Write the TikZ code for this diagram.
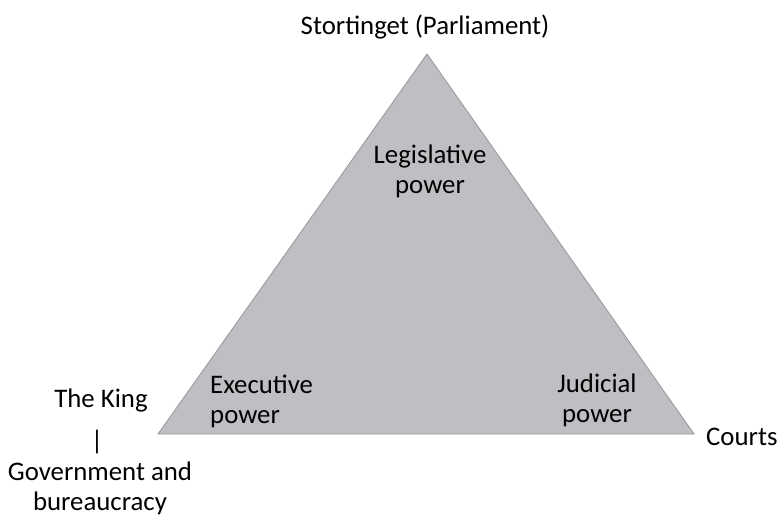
\documentclass[tikz,border=0pt]{standalone}
\usepackage{fontspec}
\setmainfont{Carlito}
\definecolor{triFill}{RGB}{191,191,195}
\definecolor{triEdge}{RGB}{150,150,155}
\begin{document}
\begin{tikzpicture}[x=1pt,y=-1pt]
    \tikzstyle{every node}+=[inner sep=0pt,font=\fontsize{26.8}{30}\selectfont]
    \useasboundingbox (0,0) rectangle (778,516);
    \filldraw [fill=triFill,draw=triEdge,line width=0.8pt] (427,54) coordinate (apex)
      -- (158,434) coordinate (lcorner) -- (694,434) coordinate (rcorner) -- cycle;
    \draw (425,35) node [anchor=base] (parl) {Stortinget (Parliament)};
    \draw (430,193) node [anchor=base,align=center] (legis) {Legislative\\power};
    \draw (210,423) node [anchor=base west,align=left] (exec) {Executive\\power};
    \draw (597,422) node [anchor=base,align=center] (judic) {Judicial\\power};
    \draw (101,407) node [anchor=base] (king) {The King};
    \draw (97,442) node (bar) {|};
    \draw (100,510) node [anchor=base,align=center] (govt) {Government and\\bureaucracy};
    \draw (706,445) node [anchor=base west] (courts) {Courts};
\end{tikzpicture}
\end{document}
